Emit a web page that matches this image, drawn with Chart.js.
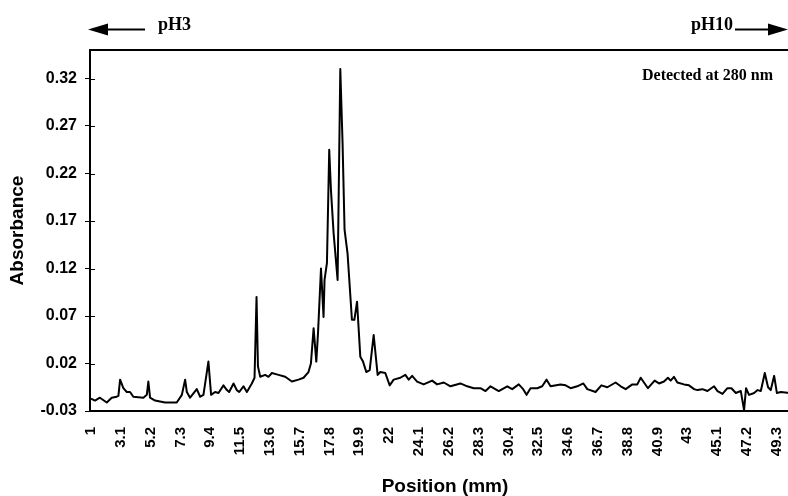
<!DOCTYPE html>
<html>
<head>
<meta charset="utf-8">
<title>IEF absorbance profile</title>
<script src="https://cdn.jsdelivr.net/npm/chart.js@4.4.1/dist/chart.umd.min.js"></script>
<style>
  html, body { margin: 0; padding: 0; background: #fff; overflow: hidden; }
  canvas { display: block; }
</style>
</head>
<body>
<canvas id="iefChart" width="800" height="496"></canvas>
<script>
// position along the gel (mm) and absorbance
const positions = [
  1.00, 1.28, 1.63, 2.11, 2.46, 2.81, 2.93, 3.05, 3.28, 3.52, 3.75, 3.98,
  4.69, 4.93, 5.04, 5.16, 5.51, 6.22, 7.04, 7.40, 7.63, 7.75, 7.98, 8.45,
  8.69, 8.92, 9.27, 9.46, 9.74, 9.98, 10.33, 10.57, 10.73, 11.04, 11.27, 11.44,
  11.74, 11.98, 12.33, 12.52, 12.66, 12.76, 12.92, 13.27, 13.50, 13.74, 14.21, 14.68,
  15.15, 15.62, 15.97, 16.32, 16.49, 16.68, 16.87, 16.99, 17.20, 17.38, 17.45, 17.62,
  17.78, 17.90, 18.09, 18.37, 18.56, 18.72, 18.86, 19.07, 19.38, 19.55, 19.74, 19.97,
  20.16, 20.39, 20.63, 20.91, 21.19, 21.38, 21.73, 22.04, 22.32, 22.79, 23.14, 23.38,
  23.62, 23.97, 24.43, 25.03, 25.38, 25.85, 26.32, 27.02, 27.50, 27.96, 28.43, 28.79,
  29.14, 29.72, 30.32, 30.67, 31.13, 31.44, 31.68, 31.96, 32.43, 32.78, 33.09, 33.37,
  34.07, 34.43, 34.78, 35.25, 35.68, 35.96, 36.54, 36.95, 37.37, 37.95, 38.31, 38.66,
  39.13, 39.48, 39.72, 40.23, 40.70, 41.01, 41.36, 41.64, 41.83, 42.06, 42.30, 42.77,
  43.12, 43.48, 43.71, 44.07, 44.42, 44.89, 45.13, 45.48, 45.83, 46.11, 46.42, 46.77,
  47.00, 47.14, 47.35, 47.71, 47.95, 48.18, 48.46, 48.69, 48.88, 49.12, 49.31, 49.59,
  50.20
];
const absorbance = [
  -0.017, -0.019, -0.016, -0.021, -0.016, -0.015, -0.014, 0.003, -0.006, -0.010, -0.010, -0.015,
  -0.016, -0.013, 0.001, -0.016, -0.019, -0.021, -0.021, -0.013, 0.003, -0.010, -0.016, -0.007,
  -0.015, -0.013, 0.022, -0.013, -0.010, -0.011, -0.003, -0.008, -0.010, -0.001, -0.008, -0.010,
  -0.004, -0.010, -0.001, 0.005, 0.090, 0.017, 0.006, 0.008, 0.006, 0.010, 0.008, 0.006,
  0.001, 0.003, 0.005, 0.011, 0.020, 0.057, 0.022, 0.052, 0.120, 0.069, 0.108, 0.126,
  0.245, 0.203, 0.157, 0.108, 0.330, 0.252, 0.161, 0.136, 0.066, 0.066, 0.085, 0.027,
  0.022, 0.011, 0.013, 0.050, 0.008, 0.011, 0.010, -0.003, 0.003, 0.005, 0.008, 0.003,
  0.007, 0.001, -0.002, 0.002, -0.002, 0.000, -0.004, -0.001, -0.004, -0.006, -0.006, -0.009,
  -0.004, -0.009, -0.004, -0.007, -0.002, -0.007, -0.013, -0.006, -0.006, -0.004, 0.003, -0.004,
  -0.002, -0.003, -0.006, -0.004, -0.001, -0.007, -0.010, -0.003, -0.005, 0.000, -0.004, -0.007,
  -0.002, -0.002, 0.005, -0.006, 0.002, -0.001, 0.001, 0.005, 0.002, 0.006, 0.000, -0.002,
  -0.003, -0.007, -0.008, -0.007, -0.009, -0.004, -0.009, -0.012, -0.006, -0.006, -0.011, -0.009,
  -0.029, -0.006, -0.013, -0.011, -0.008, -0.009, 0.010, -0.005, -0.008, 0.007, -0.011, -0.010,
  -0.011
];

const xTickLabels = [1, 3.1, 5.2, 7.3, 9.4, 11.5, 13.6, 15.7, 17.8, 19.9, 22, 24.1,
  26.2, 28.3, 30.4, 32.5, 34.6, 36.7, 38.8, 40.9, 43, 45.1, 47.2, 49.3];
const yTickLabels = [-0.03, 0.02, 0.07, 0.12, 0.17, 0.22, 0.27, 0.32];

const X_MIN = 0.93, X_MAX = 50.94;
const Y_MIN = -0.03, Y_MAX = 0.35;

function drawArrow(ctx, from, to, y) {
  const dir = Math.sign(to - from);
  const head = 20;
  ctx.beginPath();
  ctx.moveTo(from, y);
  ctx.lineTo(to - dir * head, y);
  ctx.stroke();
  ctx.beginPath();
  ctx.moveTo(to, y);
  ctx.lineTo(to - dir * head, y - 6);
  ctx.lineTo(to - dir * head, y + 6);
  ctx.closePath();
  ctx.fill();
}

// pH arrows, the detection note and the inner half of the y tick marks
const overlay = {
  id: 'overlay',
  afterDraw(chart) {
    const { ctx, chartArea, scales } = chart;
    ctx.save();
    ctx.strokeStyle = '#000';
    ctx.fillStyle = '#000';
    ctx.lineWidth = 1;
    yTickLabels.forEach(v => {
      const y = Math.round(scales.y.getPixelForValue(v)) + 0.5;
      ctx.beginPath();
      ctx.moveTo(chartArea.left, y);
      ctx.lineTo(chartArea.left + 5, y);
      ctx.stroke();
    });

    ctx.lineWidth = 2;
    drawArrow(ctx, 145, 88, 29.5);
    drawArrow(ctx, 735, 788, 29.5);

    ctx.textBaseline = 'alphabetic';
    ctx.textAlign = 'left';
    ctx.font = 'bold 18px "Liberation Serif"';
    ctx.fillText('pH3', 158, 30);
    ctx.fillText('pH10', 691, 30);
    ctx.font = 'bold 16px "Liberation Serif"';
    ctx.fillText('Detected at 280 nm', 642, 80);
    ctx.restore();
  }
};

const tickFont = size => ({ family: '"Liberation Sans", Arial, sans-serif', size, weight: 'bold' });

new Chart(document.getElementById('iefChart'), {
  type: 'line',
  data: {
    datasets: [{
      label: 'Absorbance',
      data: positions.map((p, i) => ({ x: p, y: absorbance[i] })),
      borderColor: '#000',
      borderWidth: 2,
      borderJoinStyle: 'round',
      pointRadius: 0,
      tension: 0,
      fill: false
    }]
  },
  options: {
    responsive: false,
    animation: false,
    layout: { padding: { top: 50, left: 0, right: 0, bottom: 0 } },
    plugins: {
      legend: { display: false },
      tooltip: { enabled: false }
    },
    scales: {
      x: {
        type: 'linear',
        position: 'bottom',
        min: X_MIN,
        max: X_MAX,
        afterBuildTicks: s => { s.ticks = xTickLabels.map(v => ({ value: v })); },
        afterFit: s => { s.height = 85; s.paddingLeft = 0; s.paddingRight = 0; },
        ticks: {
          autoSkip: false,
          minRotation: 90,
          maxRotation: 90,
          padding: 16,
          color: '#000',
          font: tickFont(15),
          callback: v => String(v)
        },
        grid: { drawOnChartArea: false, drawTicks: false },
        border: { display: true, color: '#000', width: 2 },
        title: {
          display: true,
          text: 'Position (mm)',
          color: '#000',
          font: { family: '"Liberation Sans", Arial, sans-serif', size: 19, weight: 'bold', lineHeight: 1 },
          padding: { top: 0, bottom: 0 }
        }
      },
      xTop: {
        type: 'linear',
        position: 'top',
        min: X_MIN,
        max: X_MAX,
        afterFit: s => { s.height = 0; s.paddingLeft = 0; s.paddingRight = 0; },
        ticks: { display: false },
        grid: { drawOnChartArea: false, drawTicks: false },
        border: { display: true, color: '#000', width: 2 }
      },
      y: {
        type: 'linear',
        min: Y_MIN,
        max: Y_MAX,
        afterBuildTicks: s => { s.ticks = yTickLabels.map(v => ({ value: v })); },
        afterFit: s => { s.width = 90; },
        ticks: {
          padding: 8,
          color: '#000',
          font: tickFont(16),
          callback: v => v.toFixed(2)
        },
        grid: { drawOnChartArea: false, drawTicks: true, tickLength: 5, color: '#000', lineWidth: 1 },
        border: { display: true, color: '#000', width: 2 },
        title: {
          display: true,
          text: 'Absorbance',
          color: '#000',
          font: { family: '"Liberation Sans", Arial, sans-serif', size: 19, weight: 'bold', lineHeight: 1.2 },
          padding: { top: 6, bottom: 0 }
        }
      }
    }
  },
  plugins: [overlay]
});
</script>
</body>
</html>
